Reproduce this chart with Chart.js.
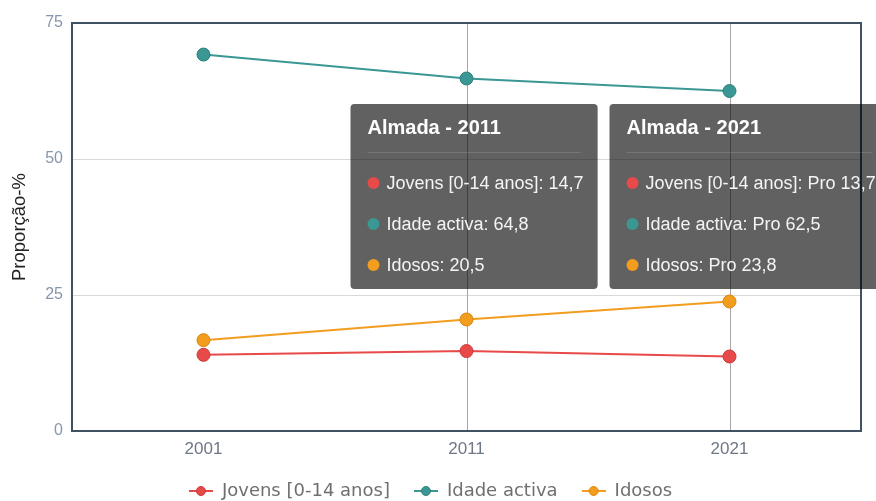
<!DOCTYPE html>
<html>
<head>
<meta charset="utf-8">
<script src="https://cdn.jsdelivr.net/npm/chart.js@4.4.0/dist/chart.umd.min.js"></script>
<style>
html, body { margin: 0; padding: 0; background: #fff; }
</style>
</head>
<body>
<canvas id="myChart" width="876" height="501"></canvas>
<script>
// dados
var categories = ['2001', '2011', '2021'];
var jovens = [14.0, 14.7, 13.7];
var idadeActiva = [69.2, 64.8, 62.5];
var idosos = [16.7, 20.5, 23.8];
var seriesNames = ['Jovens [0-14 anos]', 'Idade activa', 'Idosos'];
var yTicks = [0, 25, 50, 75];
var place = 'Almada';
var tooltipYears = ['2011', '2021'];
var tooltipPrefix = ['', 'Pro '];

var colors = ['#e84a4a', '#3a9794', '#f29d1e'];
var borders = ['#c93b3b', '#2e7f7c', '#d9860f'];
var borderDark = '#3e5264';

function makeSymbol(color, border) {
    var c = document.createElement('canvas');
    c.width = 24; c.height = 12;
    var g = c.getContext('2d');
    g.strokeStyle = color; g.lineWidth = 2;
    g.beginPath(); g.moveTo(0, 6); g.lineTo(24, 6); g.stroke();
    g.beginPath(); g.arc(12, 6, 4.5, 0, 2 * Math.PI);
    g.fillStyle = color; g.fill();
    g.strokeStyle = border; g.lineWidth = 1; g.stroke();
    return c;
}
var symbols = colors.map(function (c, i) { return makeSymbol(c, borders[i]); });

function fmt(v) { return v.toFixed(1).replace('.', ','); }

// linhas verticais + moldura
var framePlugin = {
    id: 'frame',
    beforeDatasetsDraw: function (chart) {
        var ctx = chart.ctx, a = chart.chartArea, xs = chart.scales.x;
        ctx.save();
        ctx.strokeStyle = '#a6a6a6';
        ctx.lineWidth = 1;
        tooltipYears.forEach(function (yr) {
            var px = Math.round(xs.getPixelForValue(categories.indexOf(yr))) + 0.5;
            ctx.beginPath(); ctx.moveTo(px, a.top); ctx.lineTo(px, a.bottom); ctx.stroke();
        });
        ctx.strokeStyle = borderDark;
        ctx.lineWidth = 2;
        ctx.strokeRect(a.left, a.top, a.right - a.left, a.bottom - a.top);
        ctx.restore();
    }
};

// duas caixas de tooltip fixas
var tipsPlugin = {
    id: 'tips',
    afterDraw: function (chart) {
        var ctx = chart.ctx, a = chart.chartArea, xs = chart.scales.x;
        var sets = chart.data.datasets;
        tooltipYears.forEach(function (yr, k) {
            var i = categories.indexOf(yr);
            var px = xs.getPixelForValue(i);
            var left = px - 116 - k * 4, top = a.top + 81;
            var lines = sets.map(function (ds) { return ds.label + ': ' + tooltipPrefix[k] + fmt(ds.data[i]); });
            ctx.save();
            ctx.font = 'bold 20px "Liberation Sans", Arial, sans-serif';
            var title = place + ' - ' + yr;
            var w = ctx.measureText(title).width;
            ctx.font = '18px "Liberation Sans", Arial, sans-serif';
            lines.forEach(function (l) { w = Math.max(w, ctx.measureText(l).width + 19); });
            var width = w + 31, height = 185;
            ctx.fillStyle = 'rgba(0,0,0,0.62)';
            ctx.beginPath();
            ctx.roundRect(left, top, width, height, 4);
            ctx.fill();
            ctx.fillStyle = '#fff';
            ctx.textBaseline = 'middle';
            ctx.textAlign = 'left';
            ctx.font = 'bold 20px "Liberation Sans", Arial, sans-serif';
            ctx.fillText(title, left + 17, top + 24);
            ctx.strokeStyle = 'rgba(255,255,255,0.12)';
            ctx.lineWidth = 1;
            ctx.beginPath(); ctx.moveTo(left + 17, top + 48.5); ctx.lineTo(left + width - 17, top + 48.5); ctx.stroke();
            ctx.font = '18px "Liberation Sans", Arial, sans-serif';
            lines.forEach(function (l, j) {
                var y = top + 79 + j * 41;
                ctx.beginPath();
                ctx.arc(left + 23, y, 6, 0, 2 * Math.PI);
                ctx.fillStyle = colors[j];
                ctx.fill();
                ctx.fillStyle = '#f4f4f4';
                ctx.fillText(l, left + 36, y + 1);
            });
            ctx.restore();
        });
    }
};

var datasets = [jovens, idadeActiva, idosos].map(function (d, i) {
    return {
        label: seriesNames[i],
        data: d,
        borderColor: colors[i],
        backgroundColor: colors[i],
        pointBackgroundColor: colors[i],
        pointBorderColor: borders[i],
        pointBorderWidth: 1,
        pointRadius: 6.5,
        borderWidth: 2,
        tension: 0
    };
});

var ctx = document.getElementById('myChart').getContext('2d');
var myChart = new Chart(ctx, {
    type: 'line',
    data: { labels: categories, datasets: datasets },
    options: {
        responsive: false,
        animation: false,
        events: [],
        layout: { padding: { top: 23, right: 15, bottom: -9, left: 0 } },
        scales: {
            x: {
                offset: true,
                grid: { display: false, drawTicks: false },
                border: { display: true, color: borderDark, width: 2 },
                ticks: { color: '#6e7785', padding: 8, font: { family: '"Liberation Sans", Arial, sans-serif', size: 17 } },
                afterFit: function (s) { s.height = 27; }
            },
            y: {
                min: yTicks[0],
                max: yTicks[yTicks.length - 1],
                afterBuildTicks: function (s) { s.ticks = yTicks.map(function (v) { return { value: v }; }); },
                grid: { color: '#d9d9d9', drawTicks: false },
                border: { display: true, color: borderDark, width: 2 },
                ticks: { color: '#8796ad', padding: 9, font: { family: '"Liberation Sans", Arial, sans-serif', size: 16 } },
                title: {
                    display: true,
                    text: 'Proporção-%',
                    color: '#222',
                    font: { family: '"Liberation Sans", Arial, sans-serif', size: 18.5 },
                    padding: { top: 9, bottom: 0 }
                },
                afterFit: function (s) { s.width = 72; }
            }
        },
        plugins: {
            tooltip: { enabled: false },
            legend: {
                position: 'bottom',
                labels: {
                    usePointStyle: true,
                    pointStyleWidth: 24,
                    padding: 24,
                    color: '#6f6f6f',
                    font: { family: '"DejaVu Sans", Verdana, sans-serif', size: 18 },
                    generateLabels: function (chart) {
                        var items = Chart.defaults.plugins.legend.labels.generateLabels(chart);
                        items.forEach(function (it, i) { it.pointStyle = symbols[i]; });
                        return items;
                    }
                }
            }
        }
    },
    plugins: [framePlugin, tipsPlugin]
});
</script>
</body>
</html>
